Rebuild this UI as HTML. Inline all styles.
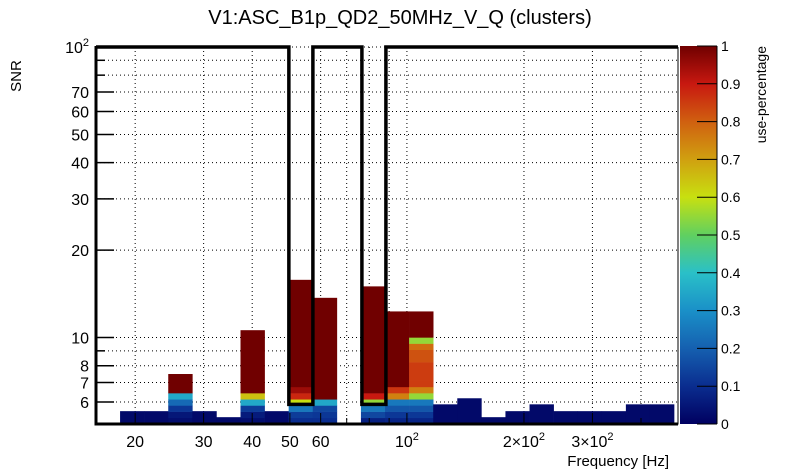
<!DOCTYPE html>
<html><head><meta charset="utf-8"><style>
html,body{margin:0;padding:0;background:#fff}
svg{display:block;font-family:"Liberation Sans",sans-serif}
</style></head><body>
<svg id="chart" width="805" height="472" viewBox="0 0 805 472" xmlns="http://www.w3.org/2000/svg">
<defs>
<linearGradient id="pal" x1="0" y1="1" x2="0" y2="0">
<stop offset="0" stop-color="#000060"/><stop offset="0.1" stop-color="#0a2d8f"/><stop offset="0.2" stop-color="#1560b0"/><stop offset="0.3" stop-color="#1a90c8"/><stop offset="0.4" stop-color="#2ac0c8"/><stop offset="0.5" stop-color="#60d060"/><stop offset="0.6" stop-color="#c8e010"/><stop offset="0.7" stop-color="#d0a010"/><stop offset="0.8" stop-color="#d06010"/><stop offset="0.9" stop-color="#c81810"/><stop offset="1" stop-color="#700000"/>
</linearGradient>
</defs>
<text x="400" y="24" font-size="20" text-anchor="middle">V1:ASC_B1p_QD2_50MHz_V_Q (clusters)</text>
<text transform="translate(21,76) rotate(-90)" font-size="15" text-anchor="middle">SNR</text>
<text x="669" y="466" font-size="15" text-anchor="end">Frequency [Hz]</text>
<g id="grid"></g><g id="cells"></g><g id="axes"></g>
<g id="cbar"></g>
</svg>
<script>
const xTickVals=[20,30,40,50,60,70,80,90,100,200,300,400];
const xTickLabels={20:"20",30:"30",40:"40",50:"50",60:"60",100:"10<tspan font-size='11' dy='-7'>2</tspan>",200:"2×10<tspan font-size='11' dy='-7'>2</tspan>",300:"3×10<tspan font-size='11' dy='-7'>2</tspan>"};
const yTickVals=[6,7,8,9,10,20,30,40,50,60,70,80,90,100];
const yTickLabels={6:"6",7:"7",8:"8",10:"10",20:"20",30:"30",40:"40",50:"50",60:"60",70:"70",100:"10<tspan font-size='11' dy='-7'>2</tspan>"};
const cbarTicks=[0,0.1,0.2,0.3,0.4,0.5,0.6,0.7,0.8,0.9,1];
const binStartHz=18.29, binLogStep=0.06195;
const rowStartSNR=5.04, rowLogStep=0.0213;
const colTop=[5.58,5.58,7.49,5.58,5.32,10.6,5.58,15.8,13.7,null,15.0,12.3,12.3,5.89,6.18,5.32,5.58,5.89,5.58,5.58,5.58,5.89,5.89];
const colCells=[[0.02],[0.02],[0.03,0.05,0.12,0.22,0.35,1.0],[0.02],[0.02],[0.03,0.06,0.13,0.35,0.65,1.0],[0.02],[0.1,0.13,0.25,0.6,0.88,0.95,1.0],[0.1,0.12,0.15,0.35,1.0],[],[0.07,0.15,0.25,0.55,0.9,1.0],[0.08,0.12,0.18,0.25,0.75,0.86,1.0],[0.08,0.12,0.18,0.25,0.55,0.75,0.85,0.85,0.85,0.85,0.82,0.82,0.78,0.55,1.0],[0.02],[0.02],[0.02],[0.02],[0.02],[0.02],[0.02],[0.02],[0.02],[0.02]];
const outlineHz=[49.7,57.3,76.6,88.3];
const outlineFloorSNR=5.89;
const X0=96,X1=678,Y0=47,Y1=424,XMIN=15.86,XMAX=498,YMIN=5.04,YMAX=100;
const NS="http://www.w3.org/2000/svg";
const sx=f=>X0+(Math.log10(f)-Math.log10(XMIN))/(Math.log10(XMAX)-Math.log10(XMIN))*(X1-X0);
const sy=v=>Y1-(Math.log10(v)-Math.log10(YMIN))/(Math.log10(YMAX)-Math.log10(YMIN))*(Y1-Y0);
function mk(tag,attrs,parent){const e=document.createElementNS(NS,tag);for(const k in attrs)e.setAttribute(k,attrs[k]);parent.appendChild(e);return e;}
const stops=[[0,[0,0,96]],[0.1,[10,45,143]],[0.2,[21,96,176]],[0.3,[26,144,200]],[0.4,[42,192,200]],[0.5,[96,208,96]],[0.6,[200,224,16]],[0.7,[208,160,16]],[0.8,[208,96,16]],[0.9,[200,24,16]],[1,[112,0,0]]];
function col(v){for(let i=1;i<stops.length;i++){if(v<=stops[i][0]){const a=stops[i-1],b=stops[i],t=(v-a[0])/(b[0]-a[0]);const c=a[1].map((x,j)=>Math.round(x+(b[1][j]-x)*t));return `rgb(${c})`;}}return "rgb(112,0,0)";}
const grid=document.getElementById('grid'),cells=document.getElementById('cells'),axes=document.getElementById('axes'),cb=document.getElementById('cbar');
xTickVals.forEach(v=>{const x=sx(v);
 const g=mk('line',{x1:x,x2:x,y1:Y0,y2:Y1,stroke:'#000','stroke-width':1,'stroke-dasharray':'1,3'},grid);
 
 
 const t=mk('line',{x1:x,x2:x,y1:Y1,y2:Y1-(xTickLabels[v]?11:6),stroke:'#000'},axes);
 
 
 if(xTickLabels[v]){const l=mk('text',{x:x,y:447,'font-size':16,'text-anchor':'middle'},axes);l.innerHTML=xTickLabels[v];
 
 }
});
yTickVals.forEach(v=>{const y=sy(v);
 const g=mk('line',{x1:X0,x2:X1,y1:y,y2:y,stroke:'#000','stroke-width':1,'stroke-dasharray':'1,3'},grid);
 
 
 const t=mk('line',{x1:X0,x2:X0+(yTickLabels[v]?18:9),y1:y,y2:y,stroke:'#000','stroke-width':1.5},axes);
 
 
 if(yTickLabels[v]){const l=mk('text',{x:89,y:y+6,'font-size':16,'text-anchor':'end'},axes);l.innerHTML=yTickLabels[v];
 
 }
});
colTop.forEach((top,i)=>{if(top==null)return;
 const fa=binStartHz*Math.pow(10,i*binLogStep),fb=binStartHz*Math.pow(10,(i+1)*binLogStep);
 const xa=sx(fa),xb=Math.min(sx(fb),X1);
 const vals=colCells[i];
 vals.forEach((v,k)=>{const lo=rowStartSNR*Math.pow(10,k*rowLogStep);
  const hi=(k===vals.length-1)?top:Math.min(top,rowStartSNR*Math.pow(10,(k+1)*rowLogStep));
  if(hi<=lo)return;
  const r=mk('rect',{x:xa,y:sy(hi),width:xb-xa+0.3,height:sy(lo)-sy(hi)+0.3,fill:col(v)},cells);
  
  
 });
});
const ya=sy(outlineFloorSNR);
const pts=[[X0,Y0],[sx(outlineHz[0]),Y0],[sx(outlineHz[0]),ya],[sx(outlineHz[1]),ya],[sx(outlineHz[1]),Y0],[sx(outlineHz[2]),Y0],[sx(outlineHz[2]),ya],[sx(outlineHz[3]),ya],[sx(outlineHz[3]),Y0],[X1,Y0]];
const pl=mk('polyline',{points:pts.map(p=>p.join(',')).join(' '),fill:'none',stroke:'#000','stroke-width':3.5},axes);


const fr=mk('path',{d:`M${X0},${Y0} V${Y1} H${X1} V${Y0}`,fill:'none',stroke:'#000','stroke-width':1},axes);


const la=mk('path',{d:`M${X0},${Y0-1} V${Y1} H${X1}`,fill:'none',stroke:'#000','stroke-width':3},axes);


const cr=mk('rect',{x:680,y:46,width:37,height:378,fill:'url(#pal)'},cb);


const cl=mk('line',{x1:717,x2:717,y1:46,y2:424,stroke:'#000'},cb);


cbarTicks.forEach(v=>{const y=424-v*378;
 const t=mk('line',{x1:697,x2:717,y1:y,y2:y,stroke:'#000'},cb);
 
 
 const l=mk('text',{x:721,y:y+5,'font-size':14},cb);l.textContent=String(v);
 
 
});
const ct=mk('text',{transform:'translate(766,46) rotate(-90)','font-size':14,'text-anchor':'end'},cb);ct.textContent='use-percentage';


</script>
</body></html>
